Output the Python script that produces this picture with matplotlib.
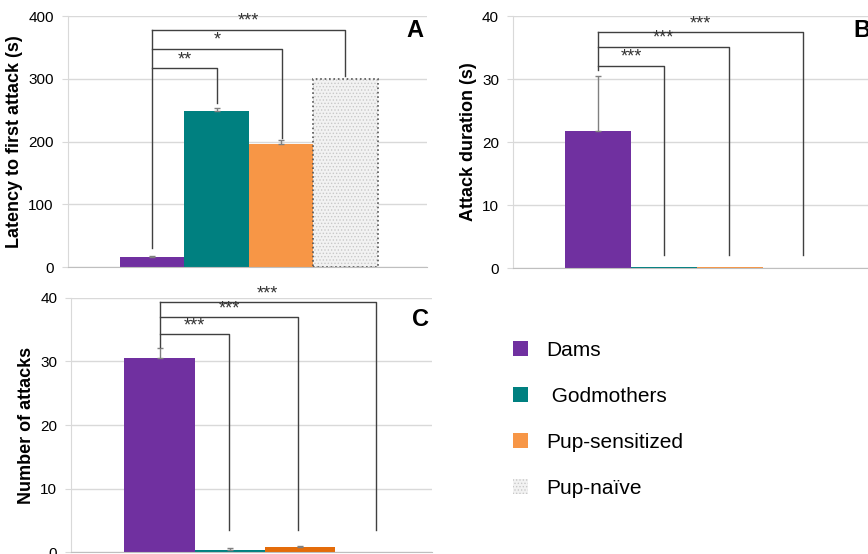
import matplotlib.pyplot as plt

plt.rcParams["font.family"] = ["Liberation Sans", "DejaVu Sans"]
plt.rcParams["hatch.linewidth"] = 0.6

# ---------------------------------------------------------------
# data
# ---------------------------------------------------------------
groups = ["Dams", " Godmothers", "Pup-sensitized", "Pup-naïve"]
colors = ["#7030A0", "#008080", "#F79646", "#F2F2F2"]
colors_c = ["#7030A0", "#008080", "#E46C0A", "#F2F2F2"]

latency = [16, 249, 196, 300]
latency_err = [2, 5, 6, 0]

duration = [21.7, 0.15, 0.25, 0]
duration_err = [8.8, 0, 0, 0]

attacks = [30.6, 0.3, 0.8, 0]
attacks_err = [1.5, 0.3, 0.15, 0]

# significance brackets: (start height, bar levels, end positions, drop heights, labels)
sig_a = (30, [317, 348, 378], [1.0, 2.02, 3.0], [261, 206, 305], ["**", "*", "***"])
sig_b = (31.4, [32.1, 35.1, 37.4], [1.0, 1.98, 3.1], [2.1, 2.1, 2.1], ["***", "***", "***"])
sig_c = (32.3, [34.3, 37.0, 39.3], [0.99, 1.98, 3.09], [3.5, 3.5, 3.5], ["***", "***", "***"])

GRID = "#D9D9D9"
LINE = "#404040"


def style_axes(ax, ymax, step):
    ax.set_ylim(0, ymax)
    ax.set_yticks(range(0, ymax + 1, step))
    ax.set_xticks([])
    ax.yaxis.grid(True, color=GRID, linewidth=1)
    ax.set_axisbelow(True)
    for side in ["top", "right"]:
        ax.spines[side].set_visible(False)
    ax.spines["left"].set_color(GRID)
    ax.spines["bottom"].set_color("#BFBFBF")
    ax.tick_params(axis="y", labelsize=11, length=4, color=GRID, pad=6)


def draw_bars(ax, values, errs, cols):
    handles = []
    for i, (v, c, g) in enumerate(zip(values, cols, groups)):
        if i == 3:
            h = ax.bar(i, v, width=1.0, color=c, hatch=".....", edgecolor="#C8C8C8",
                       linewidth=0, label=g)
            if v > 0:
                ax.bar(i, v, width=1.0, fill=False, edgecolor="#555555",
                       linestyle=":", linewidth=1.2)
        else:
            h = ax.bar(i, v, width=1.0, color=c, linewidth=0, label=g)
        handles.append(h)
    idx = [i for i, e in enumerate(errs) if e > 0]
    ax.errorbar(idx, [values[i] for i in idx],
                yerr=[[0] * len(idx), [errs[i] for i in idx]],
                fmt="none", ecolor="#808080", elinewidth=1, capsize=2, capthick=1)
    return handles


def draw_sig(ax, sig, gap):
    start, levels, ends, drops, labels = sig
    ax.plot([0, 0], [start, max(levels)], color=LINE, linewidth=1, clip_on=False)
    for lvl, end, drop, lab in zip(levels, ends, drops, labels):
        ax.plot([0, end, end], [lvl, lvl, drop], color=LINE, linewidth=1, clip_on=False)
        ax.annotate(lab, xy=(end / 2, lvl), xytext=(0, gap), textcoords="offset points",
                    ha="center", va="bottom", fontsize=13, color="#333333",
                    annotation_clip=False)


fig = plt.figure(figsize=(8.68, 5.54), dpi=100)

# ---------------- A ----------------
ax_a = fig.add_axes([0.078, 0.518, 0.414, 0.453])
handles = draw_bars(ax_a, latency, latency_err, colors)
draw_sig(ax_a, sig_a, 0)
style_axes(ax_a, 400, 100)
ax_a.set_xlim(-1.315, 4.27)
ax_a.set_ylabel("Latency to first attack (s)", fontsize=13, fontweight="bold")
ax_a.text(0.99, 0.99, "A", transform=ax_a.transAxes, ha="right", va="top",
          fontsize=17, fontweight="bold")

# ---------------- B ----------------
ax_b = fig.add_axes([0.591, 0.516, 0.423, 0.455])
draw_bars(ax_b, duration, duration_err, colors)
draw_sig(ax_b, sig_b, 0)
style_axes(ax_b, 40, 10)
ax_b.set_xlim(-1.29, 4.27)
ax_b.set_ylabel("Attack duration (s)", fontsize=13, fontweight="bold")
ax_b.text(0.975, 0.99, "B", transform=ax_b.transAxes, ha="right", va="top",
          fontsize=17, fontweight="bold")

# ---------------- C ----------------
ax_c = fig.add_axes([0.082, 0.0036, 0.416, 0.4585])
draw_bars(ax_c, attacks, attacks_err, colors_c)
draw_sig(ax_c, sig_c, 0)
style_axes(ax_c, 40, 10)
ax_c.set_xlim(-1.26, 3.89)
ax_c.set_ylabel("Number of attacks", fontsize=13, fontweight="bold")
ax_c.text(0.99, 0.96, "C", transform=ax_c.transAxes, ha="right", va="top",
          fontsize=17, fontweight="bold")

# ---------------- legend ----------------
fig.legend(handles=handles, labels=groups, loc="upper left",
           bbox_to_anchor=(0.591, 0.385), frameon=False, fontsize=15,
           handlelength=0.7, handleheight=0.7, handletextpad=0.9,
           labelspacing=1.3, borderpad=0, borderaxespad=0)

fig.savefig("out.png", dpi=100)
